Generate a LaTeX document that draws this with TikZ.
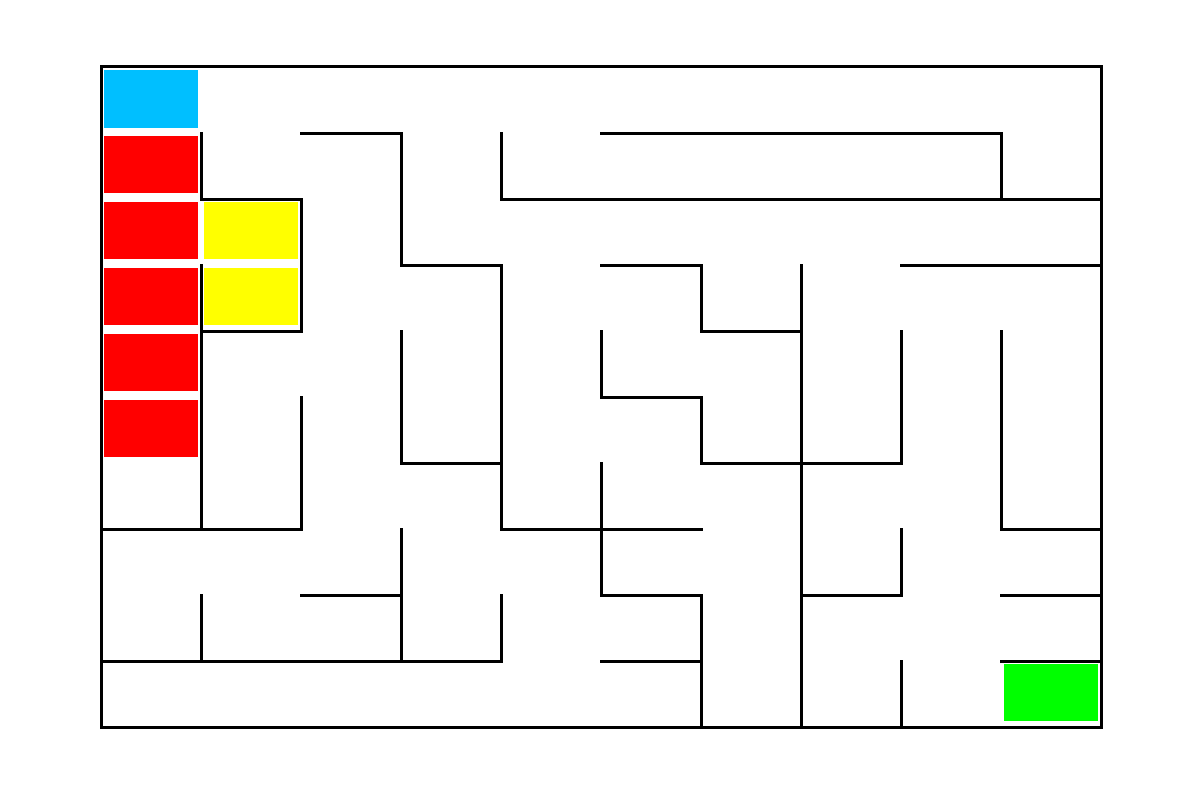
\documentclass[tikz,border=0pt]{standalone}
\begin{document}
\begin{tikzpicture}[x=1pt,y=-1pt,
  wall/.style={line width=3pt,line cap=rect,black},
  cellfill/.style={draw=none}]
\definecolor{startc}{RGB}{0,191,255}
\definecolor{pathc}{RGB}{255,0,0}
\definecolor{visitc}{RGB}{255,255,0}
\definecolor{goalc}{RGB}{0,255,0}
\useasboundingbox (0,0) rectangle (1200,800);
% cell fills
\fill[startc] (104,70) rectangle (198,128);
\foreach \r in {1,...,5}{
  \fill[pathc] (104,{67+66*\r+3}) rectangle (198,{67+66*\r+60});
}
\foreach \r in {2,3}{
  \fill[visitc] (204,{67+66*\r+3}) rectangle (298,{67+66*\r+60});
}
\fill[goalc] (1004,664) rectangle (1098,721);
% outer border
\draw[wall] (101,67) rectangle (1101,727);
% horizontal walls
\draw[wall] (301,133) -- (401,133);
\draw[wall] (601,133) -- (1001,133);
\draw[wall] (201,199) -- (301,199);
\draw[wall] (501,199) -- (1101,199);
\draw[wall] (401,265) -- (501,265);
\draw[wall] (601,265) -- (701,265);
\draw[wall] (901,265) -- (1101,265);
\draw[wall] (201,331) -- (301,331);
\draw[wall] (701,331) -- (801,331);
\draw[wall] (601,397) -- (701,397);
\draw[wall] (401,463) -- (501,463);
\draw[wall] (701,463) -- (901,463);
\draw[wall] (101,529) -- (301,529);
\draw[wall] (501,529) -- (701,529);
\draw[wall] (1001,529) -- (1101,529);
\draw[wall] (301,595) -- (401,595);
\draw[wall] (601,595) -- (701,595);
\draw[wall] (801,595) -- (901,595);
\draw[wall] (1001,595) -- (1101,595);
\draw[wall] (101,661) -- (501,661);
\draw[wall] (601,661) -- (701,661);
\draw[wall] (1001,661) -- (1101,661);
% vertical walls
\draw[wall] (201,133) -- (201,199);
\draw[wall] (201,265) -- (201,529);
\draw[wall] (201,595) -- (201,661);
\draw[wall] (301,199) -- (301,331);
\draw[wall] (301,397) -- (301,529);
\draw[wall] (401,133) -- (401,265);
\draw[wall] (401,331) -- (401,463);
\draw[wall] (401,529) -- (401,661);
\draw[wall] (501,133) -- (501,199);
\draw[wall] (501,265) -- (501,529);
\draw[wall] (501,595) -- (501,661);
\draw[wall] (601,331) -- (601,397);
\draw[wall] (601,463) -- (601,595);
\draw[wall] (701,265) -- (701,331);
\draw[wall] (701,397) -- (701,463);
\draw[wall] (701,595) -- (701,727);
\draw[wall] (801,265) -- (801,727);
\draw[wall] (901,331) -- (901,463);
\draw[wall] (901,529) -- (901,595);
\draw[wall] (901,661) -- (901,727);
\draw[wall] (1001,133) -- (1001,199);
\draw[wall] (1001,331) -- (1001,529);
\end{tikzpicture}
\end{document}
